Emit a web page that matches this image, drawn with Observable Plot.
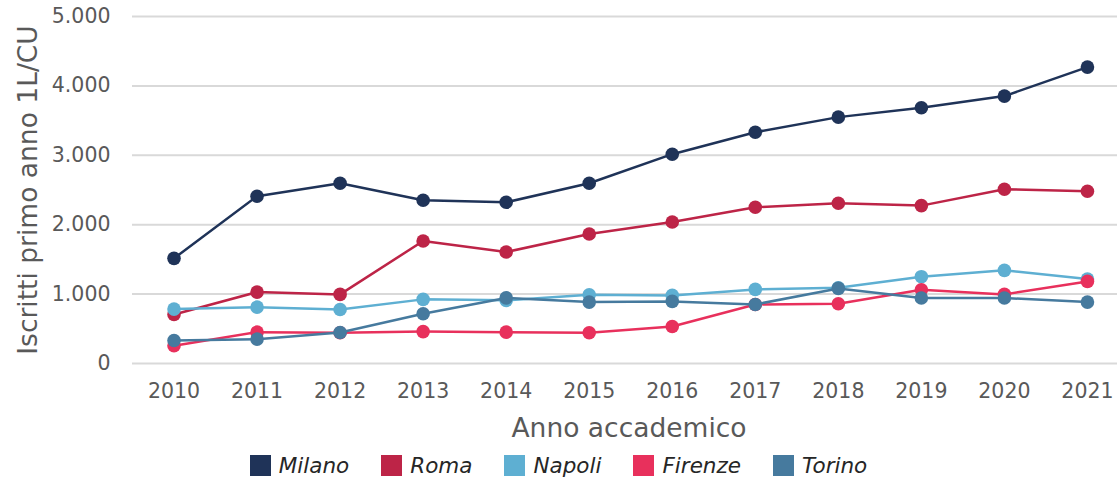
<!DOCTYPE html>
<html><head><meta charset="utf-8">
<script src="https://cdn.jsdelivr.net/npm/d3@7"></script>
<script src="https://cdn.jsdelivr.net/npm/@observablehq/plot@0.6"></script>
<style>
body{margin:0;background:#fff;font-family:"DejaVu Sans",sans-serif;}
#chart svg{display:block;}
#legend{display:flex;justify-content:center;align-items:center;height:29px;width:1117px;font-style:italic;font-size:21.5px;color:#262626;box-sizing:border-box;padding-top:6px;}
#legend .item{display:flex;align-items:center;margin:0 16px;}
#legend .sw{width:21px;height:21px;margin-right:8px;}
</style></head><body>
<div id="chart"></div><div id="legend"></div>
<script>
const years = [2010,2011,2012,2013,2014,2015,2016,2017,2018,2019,2020,2021];
const cities = ["Milano","Roma","Napoli","Firenze","Torino"];
const colors = ["#1f3358","#bd2447","#5eafd2","#e8305c","#467a9e"];
const milano = [1515,2410,2597,2352,2323,2597,3016,3333,3550,3685,3853,4271];
const roma = [707,1029,996,1765,1606,1866,2039,2251,2309,2275,2511,2482];
const napoli = [784,812,779,924,910,991,981,1068,1092,1251,1342,1216];
const firenze = [255,452,444,460,452,443,534,851,861,1063,996,1183];
const torino = [332,351,447,717,945,885,895,851,1082,943,943,885];
const yTicks = [0,1000,2000,3000,4000,5000];
const yTitle = "Iscritti primo anno 1L/CU";
const xTitle = "Anno accademico";

const series = [milano, roma, napoli, firenze, torino];
const data = cities.flatMap((c,i)=>years.map((y,j)=>({city:c, year:y, value:series[i][j]})));
const fmt = d3.formatLocale({decimal:",", thousands:".", grouping:[3], currency:["","€"]}).format(",");

const seriesMarks = cities.flatMap((c,i)=>{
  const d = data.filter(r=>r.city===c);
  return [
    Plot.line(d, {x:"year", y:"value", stroke:colors[i], strokeWidth:2.5}),
    Plot.dot(d, {x:"year", y:"value", r:6.8, fill:colors[i], stroke:"none"})
  ];
});

const chart = Plot.plot({
  width:1117, height:448,
  marginLeft:132, marginRight:0, marginTop:16, marginBottom:85,
  style:{color:"#595959", fontFamily:"DejaVu Sans, sans-serif", background:"#fff"},
  x:{type:"linear", domain:[2009.5, 2021.362]},
  y:{domain:[0,5000]},
  marks:[
    Plot.ruleY(yTicks, {stroke:"#d9d9d9", strokeWidth:2}),
    Plot.axisY({ticks:yTicks, tickSize:0, tickPadding:22, tickFormat:fmt, fontSize:20.5, label:null}),
    Plot.axisX({ticks:years, tickSize:0, tickPadding:20, tickFormat:d=>String(d), fontSize:20.5, label:null}),
    ...seriesMarks,
    Plot.text([yTitle], {frameAnchor:"left", textAnchor:"middle", lineAnchor:"middle", rotate:-90, dx:-104, fontSize:26.5, fill:"#595959"}),
    Plot.text([xTitle], {frameAnchor:"bottom", textAnchor:"middle", lineAnchor:"middle", dx:4, dy:65, fontSize:26.5, fill:"#595959"})
  ]
});
document.getElementById("chart").appendChild(chart);

const leg = document.getElementById("legend");
cities.forEach((c,i)=>{
  const it = document.createElement("div"); it.className="item";
  const sw = document.createElement("div"); sw.className="sw"; sw.style.background=colors[i];
  const t = document.createElement("span"); t.textContent=c;
  it.appendChild(sw); it.appendChild(t); leg.appendChild(it);
});
</script>
</body></html>
